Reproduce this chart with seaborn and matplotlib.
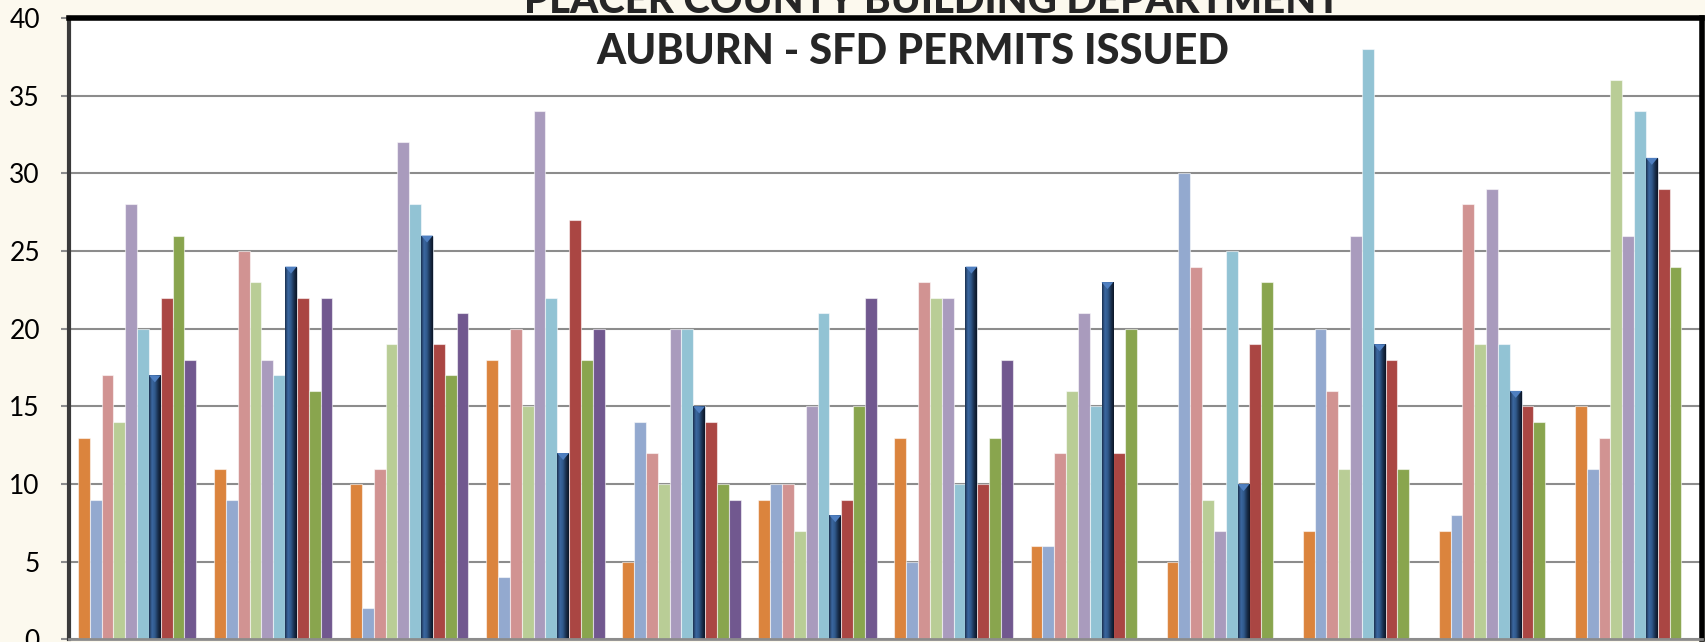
import matplotlib
matplotlib.use('Agg')
import numpy as np
import pandas as pd
import seaborn as sns
import matplotlib.pyplot as plt
from matplotlib.colors import LinearSegmentedColormap

months = ["Jan", "Feb", "Mar", "Apr", "May", "Jun",
          "Jul", "Aug", "Sep", "Oct", "Nov", "Dec"]
years = ["2003", "2004", "2005", "2006", "2007",
         "2008", "2009", "2010", "2011", "2012"]

# permits per month, one list per year
y2003 = [13, 11, 10, 18, 5, 9, 13, 6, 5, 7, 7, 15]
y2004 = [9, 9, 2, 4, 14, 10, 5, 6, 30, 20, 8, 11]
y2005 = [17, 25, 11, 20, 12, 10, 23, 12, 24, 16, 28, 13]
y2006 = [14, 23, 19, 15, 10, 7, 22, 16, 9, 11, 19, 36]
y2007 = [28, 18, 32, 34, 20, 15, 22, 21, 7, 26, 29, 26]
y2008 = [20, 17, 28, 22, 20, 21, 10, 15, 25, 38, 19, 34]
y2009 = [17, 24, 26, 12, 15, 8, 24, 23, 10, 19, 16, 31]
y2010 = [22, 22, 19, 27, 14, 9, 10, 12, 19, 18, 15, 29]
y2011 = [26, 16, 17, 18, 10, 15, 13, 20, 23, 11, 14, 24]
y2012 = [18, 22, 21, 20, 9, 22, 18, None, None, None, None, None]

series = [y2003, y2004, y2005, y2006, y2007, y2008, y2009, y2010, y2011, y2012]
colors = ["#DB843D", "#93A9CF", "#D19392", "#B9CD96", "#A99BBD",
          "#92C3D4", "#2C4D75", "#AA4643", "#89A54E", "#71588F"]

rows = []
for yr, vals in zip(years, series):
    for m, v in zip(months, vals):
        rows.append({"month": m, "year": yr, "permits": np.nan if v is None else v})
df = pd.DataFrame(rows)

sns.set_style("white")
plt.rcParams['font.family'] = ['Lato', 'DejaVu Sans']

fig = plt.figure(figsize=(17.05, 6.42), dpi=100, facecolor="#FCF9EE")
ax = fig.add_axes([0.0405, 0.0039, 0.9578, 0.968])
ax.set_facecolor("white")

sns.barplot(data=df, x="month", y="permits", hue="year", order=months,
            hue_order=years, palette=colors, width=0.87, legend=False,
            edgecolor=(1, 1, 1, 0.55), linewidth=0.8, saturation=1, ax=ax)

# cylinder-like shading on the dark navy series
shade = LinearSegmentedColormap.from_list(
    "navy", ["#1B3150", "#3B67A0", "#30598B", "#1A3150", "#0B1626"])
grad = np.linspace(0, 1, 64).reshape(1, -1)
for p in ax.containers[6]:
    h = p.get_height()
    if not np.isfinite(h) or h == 0:
        continue
    x0 = p.get_x()
    w = p.get_width()
    im = ax.imshow(grad, cmap=shade, extent=[x0, x0 + w, 0, h],
                   aspect="auto", zorder=p.get_zorder() + 0.1)
    im.set_clip_path(p)
    ax.fill([x0, x0 + w, x0 + w / 2], [h, h, h - 0.45],
            color="#4F7FC0", zorder=p.get_zorder() + 0.2, lw=0)

ax.set_xlim(-0.5, 11.5)
ax.set_ylim(0, 40)
ax.set_yticks(range(0, 41, 5))
ax.set_xlabel("")
ax.set_ylabel("")
ax.set_xticks([])
ax.yaxis.grid(True, color="#8C8C8C", linewidth=1.5)
ax.set_axisbelow(True)
ax.tick_params(axis="y", labelsize=19, length=6, width=1.5, color="#8C8C8C",
               pad=15, left=True, labelcolor="black")

for side in ["top", "right"]:
    ax.spines[side].set_visible(True)
    ax.spines[side].set_color("black")
ax.spines["top"].set_linewidth(4)
ax.spines["right"].set_linewidth(4)
ax.spines["left"].set_color("#3A3A3A")
ax.spines["left"].set_linewidth(3)
ax.spines["bottom"].set_color("#8C8C8C")
ax.spines["bottom"].set_linewidth(2)

fig.text(0.5466, 1 - 13 / 642, "PLACER COUNTY BUILDING DEPARTMENT",
         ha="center", va="baseline", fontsize=29, fontweight="black")
fig.text(0.5355, 1 - 52 / 642, "AUBURN - SFD PERMITS ISSUED",
         ha="center", va="center", fontsize=30, fontweight="black", zorder=5)

fig.savefig("out.png", dpi=100, facecolor=fig.get_facecolor())
